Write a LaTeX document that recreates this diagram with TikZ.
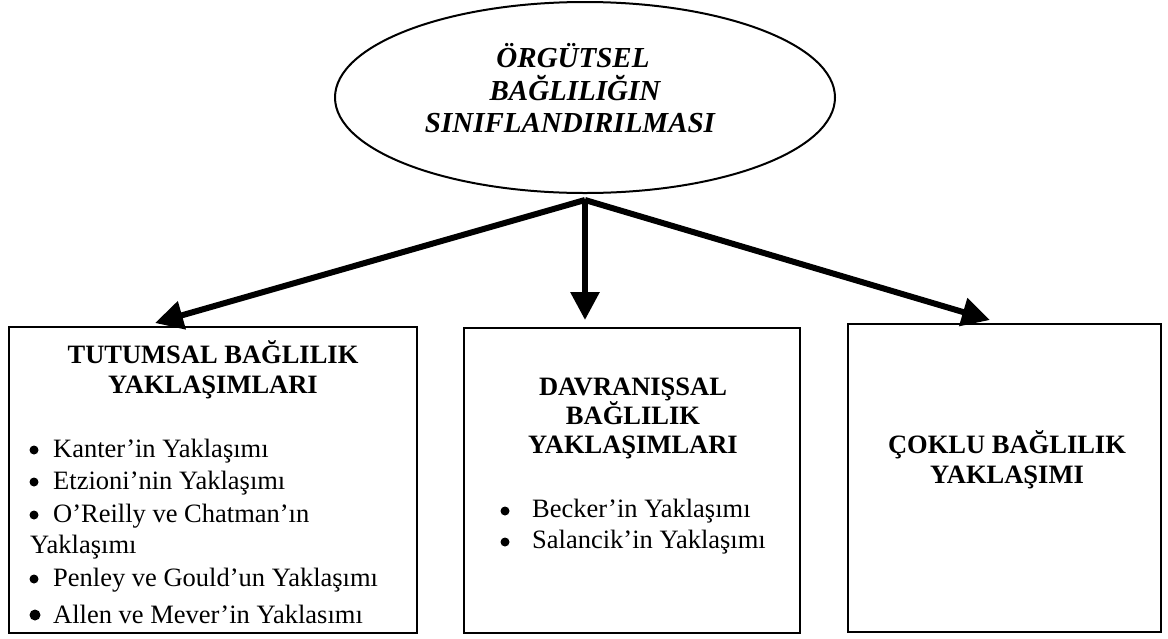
\documentclass[tikz,border=0pt]{standalone}
\usepackage{fontspec}
\setmainfont{Liberation Serif}
\usetikzlibrary{arrows.meta,shapes.geometric}

\tikzset{
  frame/.style={draw=black, line width=2pt, rectangle, inner sep=0pt},
  oval/.style={draw=black, line width=2pt, ellipse, inner sep=0pt},
  head/.style={font=\bfseries\itshape\fontsize{29}{33}\selectfont, anchor=base, inner sep=0pt},
  title/.style={font=\bfseries\fontsize{26.5}{30}\selectfont, anchor=base, inner sep=0pt},
  item/.style={font=\fontsize{26.5}{30}\selectfont, anchor=base west, inner sep=0pt},
  dot/.style={circle, fill=black, inner sep=0pt, minimum size=#1},
  dot/.default=9pt,
  link/.style={line width=6pt, -{Triangle[length=28pt,width=28pt]}},
}

\begin{document}
\begin{tikzpicture}[x=1pt,y=-1pt]
  \useasboundingbox (0,0) rectangle (1168,638);

  % top ellipse
  \node[oval, minimum width=500pt, minimum height=191pt] (top) at (585,97.5) {};
  \node[head] (h1) at (573,67) {ÖRGÜTSEL};
  \node[head] (h2) at (575,100) {BAĞLILIĞIN};
  \node[head] (h3) at (570,132) {SINIFLANDIRILMASI};

  % three boxes
  \node[frame, minimum width=408pt, minimum height=306pt] (lbox) at (213,480) {};
  \node[frame, minimum width=336pt, minimum height=305pt] (mbox) at (632,480.5) {};
  \node[frame, minimum width=313pt, minimum height=308pt] (rbox) at (1004.5,478) {};

  % arrows from the ellipse to the boxes
  \coordinate (hub) at (585,200);
  \coordinate (tipL) at (155,323);
  \coordinate (tipM) at (585,320);
  \coordinate (tipR) at (990,320);
  \draw[link] (hub) -- (tipL);
  \draw[link] (hub) -- (tipM);
  \draw[link] (hub) -- (tipR);

  % left box
  \node[title] (lt1) at (213,363) {TUTUMSAL BAĞLILIK};
  \node[title] (lt2) at (213,393) {YAKLAŞIMLARI};
  \node[dot] (lb1) at (34,450) {};
  \node[item] (li1) at (53,457) {Kanter’in Yaklaşımı};
  \node[dot] (lb2) at (34,482) {};
  \node[item] (li2) at (53,489) {Etzioni’nin Yaklaşımı};
  \node[dot] (lb3) at (34,515) {};
  \node[item] (li3) at (53,522) {O’Reilly ve Chatman’ın};
  \node[item] (li3b) at (30,553) {Yaklaşımı};
  \node[dot] (lb4) at (34,579) {};
  \node[item] (li4) at (53,586) {Penley ve Gould’un Yaklaşımı};
  \node[dot=11pt] (lb5) at (35,615) {};
  \node[item] (li5) at (53,623) {Allen ve Mever’in Yaklasımı};

  % middle box
  \node[title] (mt1) at (633,395) {DAVRANIŞSAL};
  \node[title] (mt2) at (633,424) {BAĞLILIK};
  \node[title] (mt3) at (633,453) {YAKLAŞIMLARI};
  \node[dot] (mb1) at (505,511) {};
  \node[item] (mi1) at (532,517) {Becker’in Yaklaşımı};
  \node[dot] (mb2) at (505,542) {};
  \node[item] (mi2) at (532,548) {Salancik’in Yaklaşımı};

  % right box
  \node[title] (rt1) at (1007,453) {ÇOKLU BAĞLILIK};
  \node[title] (rt2) at (1007,483) {YAKLAŞIMI};
\end{tikzpicture}
\end{document}
